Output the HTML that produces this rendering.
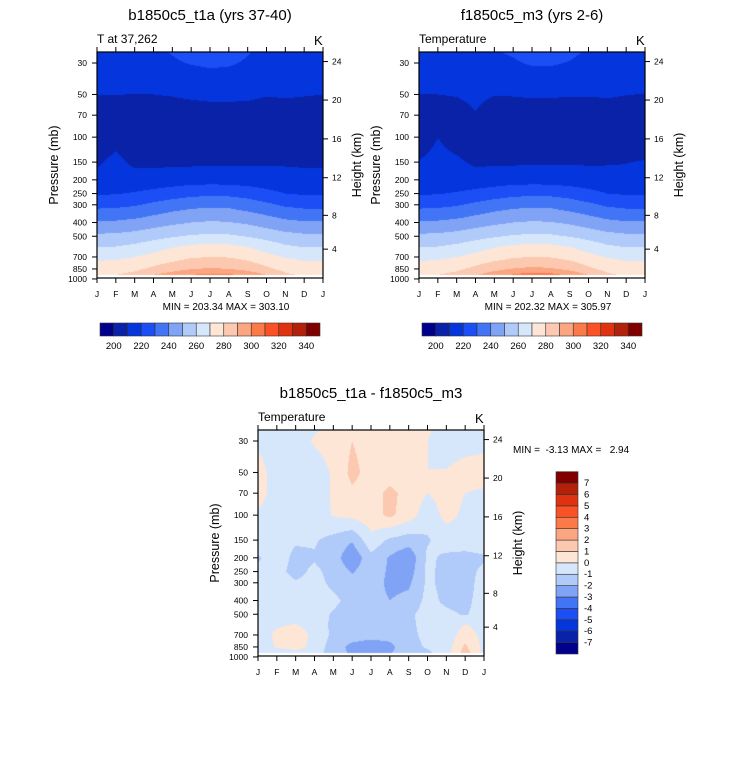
<!DOCTYPE html>
<html><head><meta charset="utf-8">
<style>
html,body{margin:0;padding:0;background:#fff;}
#wrap{position:relative;width:733px;height:766px;overflow:hidden;}
canvas,svg{position:absolute;left:0;top:0;}
text{font-family:"Liberation Sans",sans-serif;fill:#000;white-space:pre;}
</style></head>
<body>
<div id="wrap">
<canvas id="cv" width="733" height="766"></canvas>
<svg id="sv" width="733" height="766"></svg>
</div>
<script>
const months=['J','F','M','A','M','J','J','A','S','O','N','D','J'];
const pLevels=[25,30,50,70,100,150,200,250,300,400,500,600,700,850,940];
const pTicks=[30,50,70,100,150,200,250,300,400,500,700,850,1000];
const hTicks=[4,8,12,16,20,24];
const tempBarLabels=[200,220,240,260,280,300,320,340];
const diffBarLabels=[7,6,5,4,3,2,1,0,-1,-2,-3,-4,-5,-6,-7];
const t1=[
[217,217,217.5,218.5,220.5,222.5,224,223.5,220.5,218,217,217,217],
[216,216,216.5,217.5,219,220.5,221.5,221,219,217,216,216,216],
[210,210.2,209.8,210,210.5,211.5,212.5,212.5,212,210.5,211,210.5,210],
[205.5,205.5,205.5,205.5,205.5,205.5,205.5,205.5,205.5,205.5,205.5,205.5,205.5],
[204.5,207.5,204.5,204.5,204.5,204.5,204.5,204.5,204.5,204.5,204.5,204.5,204.5],
[209,212,208.5,208,208,208,208.5,208.5,208.5,209,209,209,209],
[212,212,213,214,215,216,216,216,215,214,213,212,212],
[219,219.5,221,223,225,227,228,227.5,226,223,220,219,219],
[227,227.5,229,232,235,237,238,237.5,235,232,228.5,227,227],
[241,241.5,243,245.5,248,250,251,250.5,248.5,245.5,242.5,241,241],
[252,252.5,254,256.5,259,261,262,261.5,259.5,256.5,253.5,252,252],
[260,260.7,262.8,266.3,269.8,272.6,274,273.3,270.5,266.3,262.1,260,260],
[267.5,268,270,273,276,279,280,279.5,277,273,269.5,267.5,267.5],
[275,276,278,282,286,289.5,291,290,287,282,277,275,275],
[278.5,280,283,290.5,295,300.5,303,302.5,297,290.5,282,278.5,278.5]];
const t2=[
[218,218,218,218.5,219.5,221,224,224,222,219,218,218,218],
[216,216,216,216.5,217.5,219,221,221,219.5,217,216,216,216],
[209.8,210,210.5,212,210.3,210.5,211,211,210.5,210.5,211,210.2,209.8],
[205.5,205.5,206.5,209.5,205.5,205.5,205.5,205.5,205.5,205.5,205.5,205.5,205.5],
[205,209.9,206,204.5,204.5,204.5,204.5,204.5,204.5,204.5,204.5,204.5,205],
[210.5,213,211.5,208.5,208.5,208.5,209,209,209,209,209.3,209.8,210.5],
[212,212,213,214,215,216,216,216,215,214,213,212,212],
[219,219.5,221,223,225,227,228,227.5,226,223,220,219,219],
[227,227.5,229,232,235,237,238,237.5,235,232,228.5,227,227],
[241,241.5,243,245.5,248,250,251,250.5,248.5,245.5,242.5,241,241],
[252,252.5,254,256.5,259,261,262,261.5,259.5,256.5,253.5,252,252],
[260,260.7,262.8,266.3,269.8,272.6,274,273.3,270.5,266.3,262.1,260,260],
[267.5,268,270,273,276,279,280,279.5,277,273,269.5,267.5,267.5],
[275,276,278,282.5,287,290.5,292,291,287.5,282,277,275,275],
[278.5,280,283,289.5,296,301.5,305.5,304,298,290,282,278.5,278.5]];
const d3=[
[-0.5,-0.5,-0.4,-0.1,0.3,0.6,0.5,0.4,0.3,0.1,-0.3,-0.4,-0.3],
[-0.2,-0.6,-0.4,0.1,0.3,1.0,0.5,0.4,0.4,0.0,-0.4,-0.3,-0.2],
[0.4,-0.4,-0.5,-0.4,0.1,1.3,0.6,0.4,0.3,0.0,0.05,0.3,0.3],
[0.3,-0.3,-0.5,-0.4,0.1,0.8,0.5,1.3,0.6,0.0,0.4,0.0,-0.1],
[-0.1,-0.4,-0.5,-0.4,0.05,0.3,0.6,1.2,0.5,-0.6,0.3,-0.2,-0.4],
[-0.5,-0.8,-0.9,-0.9,-1.3,-1.9,-0.3,-1.2,-1.5,-1.1,-0.5,-0.5,-0.5],
[-1.1,-0.6,-1.2,-1.1,-1.5,-2.8,-1.3,-2.1,-2.8,-0.8,-1.2,-1.3,-1.1],
[-0.8,-0.7,-1.3,-0.8,-1.3,-2.1,-1.3,-2.2,-2.5,-0.8,-1.3,-1.3,-0.8],
[-0.6,-0.6,-0.9,-0.7,-1.2,-1.6,-1.4,-2.3,-2.2,-0.8,-1.3,-1.4,-0.6],
[-0.5,-0.5,-0.6,-0.6,-0.8,-1.3,-1.5,-2.0,-1.7,-0.7,-1.2,-1.3,-0.5],
[-0.5,-0.4,-0.5,-0.6,-1.1,-1.4,-1.6,-1.5,-1.2,-0.6,-0.8,-1.1,-0.5],
[-0.5,-0.1,0.1,-0.5,-1.2,-1.5,-1.7,-1.6,-1.2,-0.7,-0.7,0.1,-0.4],
[-0.5,0.2,0.6,-0.3,-1.2,-1.5,-1.7,-1.6,-1.2,-0.8,-0.6,0.5,-0.3],
[-0.6,0.1,0.5,-0.4,-1.5,-2.3,-2.5,-2.3,-1.3,-0.9,-0.5,1.2,-0.3],
[-1.0,-0.7,-0.5,-0.6,-1.4,-2.2,-2.6,-2.1,-1.2,-1.2,-0.5,1.5,-0.4]];
const palette=['#00008c','#0a22a8','#0535dc','#1b4ef5','#4275f5','#80a3f5','#b0caf9','#d7e7fb','#fde6d6','#fcc8b0','#fba581','#fb7a4a','#fa5224','#e03210','#b3210a','#800000'];

const PPD=141.8, W=226, H=226;
const L30=Math.log10(30);
const panels=[
 {x0:97,y0:52,y30:63,grid:t1,cls:v=>Math.floor((v-190)/10),title:'b1850c5_t1a (yrs 37-40)',sub:'T at 37,262',mm:'MIN = 203.34 MAX = 303.10',key:'p1'},
 {x0:419,y0:52,y30:63,grid:t2,cls:v=>Math.floor((v-190)/10),title:'f1850c5_m3 (yrs 2-6)',sub:'Temperature',mm:'MIN = 202.32 MAX = 305.97',key:'p2'},
 {x0:258,y0:430,y30:441,grid:d3,cls:v=>Math.floor(v+8),title:'b1850c5_t1a - f1850c5_m3',sub:'Temperature',mm:null,key:'p3'}];
const logL=pLevels.map(p=>Math.log10(p));
function yOfP(pn,p){return pn.y30+(Math.log10(p)-L30)*PPD;}
function xOfM(pn,m){return pn.x0+m*W/12;}
function pOfH(z){z*=1000;if(z<=11000)return 1013.25*Math.pow(1-2.2558e-5*z,5.256);
 if(z<=20000)return 226.32*Math.exp(-(z-11000)/6341.6);return 54.75*Math.pow(1+(z-20000)/216650,-34.16);}
function hexRGB(h){return [parseInt(h.substr(1,2),16),parseInt(h.substr(3,2),16),parseInt(h.substr(5,2),16)];}
const rgb=palette.map(hexRGB);

const cv=document.getElementById('cv');const ctx=cv.getContext('2d');
const img=ctx.createImageData(733,766);
for(let i=0;i<img.data.length;i++)img.data[i]=255;
panels.forEach(pn=>{
 for(let y=pn.y0;y<pn.y0+H;y++){
  const lp=L30+(y+0.5-pn.y30)/PPD;
  if(lp>logL[logL.length-1]||lp<logL[0]-0.01)continue;
  let k=0;while(k<logL.length-2&&lp>logL[k+1])k++;
  let fy=(lp-logL[k])/(logL[k+1]-logL[k]);fy=Math.max(0,Math.min(1,fy));
  for(let x=pn.x0;x<pn.x0+W;x++){
   const m=(x+0.5-pn.x0)/W*12;let j=Math.min(11,Math.floor(m));const fx=m-j;
   const g=pn.grid;
   const v=(g[k][j]*(1-fx)+g[k][j+1]*fx)*(1-fy)+(g[k+1][j]*(1-fx)+g[k+1][j+1]*fx)*fy;
   let c=pn.cls(v);c=Math.max(0,Math.min(15,c));
   const o=(y*733+x)*4;img.data[o]=rgb[c][0];img.data[o+1]=rgb[c][1];img.data[o+2]=rgb[c][2];
  }
 }
});
ctx.putImageData(img,0,0);

const NS='http://www.w3.org/2000/svg';const sv=document.getElementById('sv');
function el(tag,attrs,parent){const e=document.createElementNS(NS,tag);for(const a in attrs)e.setAttribute(a,attrs[a]);(parent||sv).appendChild(e);return e;}
function txt(s,x,y,size,anchor,parent){const t=el('text',{x:x,y:y,'font-size':size,'text-anchor':anchor||'start'},parent);t.textContent=s;return t;}

panels.forEach(pn=>{
 const g=el('g',{});
 
 
 const fr=el('rect',{x:pn.x0,y:pn.y0,width:W,height:H,fill:'none',stroke:'#000','stroke-width':1.2},g);
 
 
 const t=txt(pn.title,pn.x0+W/2,pn.y0-32,15,'middle',g);
 
 
 const s=txt(pn.sub,pn.x0,pn.y0-9,12,'start',g);
 
 
 const u=txt('K',pn.x0+W-9,pn.y0-7,13,'start',g);
 
 
 months.forEach((mo,i)=>{
  const x=xOfM(pn,i);
  el('line',{x1:x,y1:pn.y0+H,x2:x,y2:pn.y0+H+5,stroke:'#000'},g);
  el('line',{x1:x,y1:pn.y0,x2:x,y2:pn.y0-5,stroke:'#000'},g);
  const ml=txt(mo,x,pn.y0+H+19,8.5,'middle',g);
  
  
 });
 pTicks.forEach(p=>{
  const y=yOfP(pn,p);
  el('line',{x1:pn.x0,y1:y,x2:pn.x0-5,y2:y,stroke:'#000'},g);
  const pl=txt(String(p),pn.x0-10,y+3,8.5,'end',g);
  
  
 });
 hTicks.forEach(h=>{
  const y=yOfP(pn,pOfH(h));
  el('line',{x1:pn.x0+W,y1:y,x2:pn.x0+W+5,y2:y,stroke:'#000'},g);
  const hl=txt(String(h),pn.x0+W+9,y+3,8.5,'start',g);
  
  
 });
 const ya=txt('Pressure (mb)',0,0,12.5,'middle',g);
 ya.setAttribute('transform','translate('+(pn.x0-39)+','+(pn.y0+H/2)+') rotate(-90)');
 
 
 const ha=txt('Height (km)',0,0,12.5,'middle',g);
 ha.setAttribute('transform','translate('+(pn.x0+W+38)+','+(pn.y0+H/2)+') rotate(-90)');
 
 
 if(pn.mm){
  const mm=txt(pn.mm,pn.x0+W/2+16,pn.y0+H+32,10,'middle',g);
  
  
  const cb=el('g',{},g);
  
  
  const bx=pn.x0+3,bw=220/16,by=323;
  palette.forEach((c,i)=>{
   const r=el('rect',{x:bx+i*bw,y:by,width:bw,height:13,fill:c,stroke:'#333','stroke-width':0.6},cb);
   
   
  });
  tempBarLabels.forEach(v=>{
   const idx=(v-190)/10;
   const l=txt(String(v),bx+idx*bw,by+26,9.5,'middle',cb);
   
   
  });
 }
});
const mm3=txt('MIN =  -3.13 MAX =   2.94',513,453,10,'start');
mm3.setAttribute('xml:space','preserve');


const cb3=el('g',{});


const vx=556,vy=471.7,vh=182.3/16;
palette.forEach((c,i)=>{
 const r=el('rect',{x:vx,y:vy+(15-i)*vh,width:22,height:vh,fill:c,stroke:'#333','stroke-width':0.6},cb3);
 
 
});
diffBarLabels.forEach(v=>{
 const idx=7-v+1;
 const l=txt(String(v),584,vy+idx*vh+3,9.5,'start',cb3);
 
 
});
</script>
</body></html>
